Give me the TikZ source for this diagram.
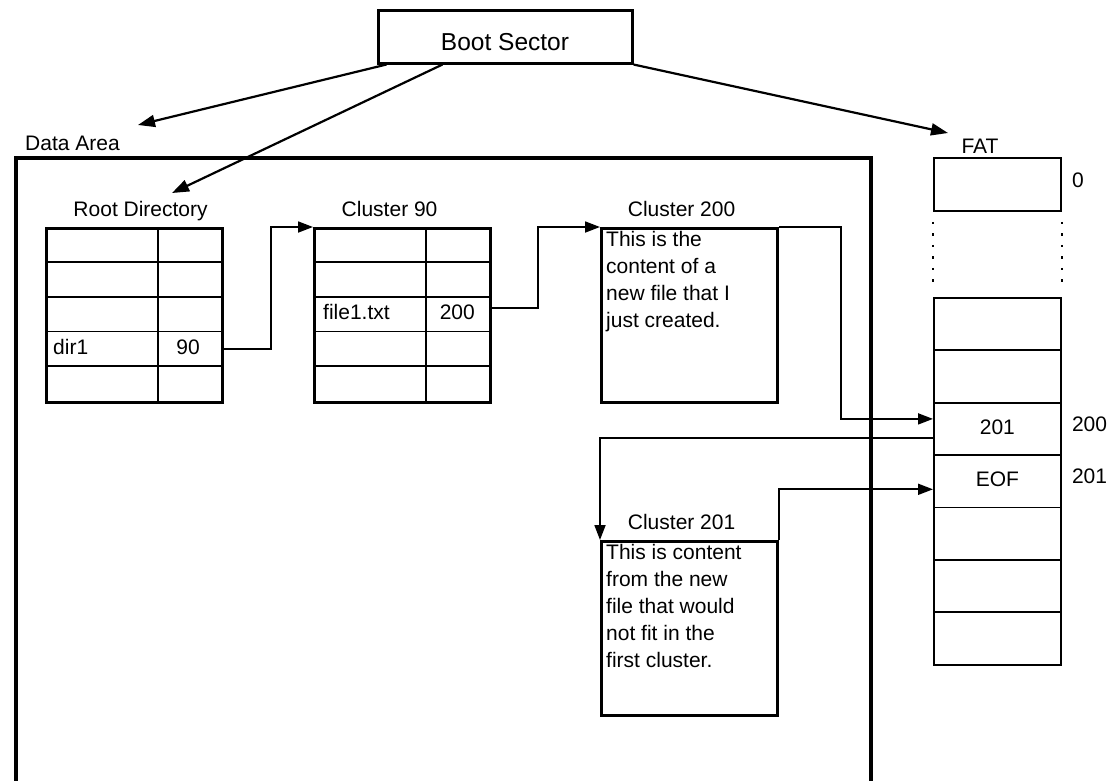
\documentclass[tikz,border=0pt]{standalone}
\usepackage{fontspec}
\setmainfont{Liberation Sans}
\usetikzlibrary{arrows.meta, positioning, calc}
\tikzstyle{bootbox} = [draw, line width=3pt, minimum width=254pt, minimum height=53pt, text height=27pt, text depth=0pt, font=\fontsize{24.5}{28}\selectfont]
\tikzstyle{dirtable} = [draw, line width=3.2pt, minimum width=176pt, minimum height=174pt, anchor=north west, inner sep=0pt]
\tikzstyle{fatcell} = [draw, line width=1.8pt, minimum width=127pt, minimum height=52.4pt, anchor=north west, inner sep=0pt]
\tikzstyle{lbl} = [inner sep=2pt, text height=15pt, text depth=4pt]
\tikzstyle{txt} = [inner sep=2pt, align=left, anchor=north west]
\tikzstyle{thinline} = [line width=1.8pt]
\tikzstyle{arrow} = [line width=1.8pt, -{Triangle[length=15pt,width=11pt]}]
\tikzstyle{bootarrow} = [line width=2.2pt, -{Triangle[length=17pt,width=12pt]}]

\begin{document}
\begin{tikzpicture}[x=1pt, y=-1pt, font=\fontsize{21}{27}\selectfont]
\useasboundingbox (0,0) rectangle (1111,780);
% boot sector and where it points
\node[bootbox] (boot) at (505,36.5) {Boot Sector};
\node[lbl, anchor=base west] (datalbl) at (23,150) {Data Area};
\node[draw, line width=3.5pt, minimum width=855pt, minimum height=625pt, anchor=north west, inner sep=0pt] (data) at (14,156) {};
\node[lbl, anchor=base] (fatlbl) at (980,153) {FAT};
\coordinate (datatip) at (138,125);
\coordinate (roottip) at (172,193);
\coordinate (fattip) at (948,133);
\draw[bootarrow] ([xshift=10pt]boot.south west) -- (datatip);
\draw[bootarrow] ([xshift=66pt]boot.south west) -- (roottip);
\draw[bootarrow] (boot.south east) -- (fattip);

% directory tables
\node[dirtable] (root) at (45,227) {};
\node[dirtable] (c90) at (313,227) {};
\foreach \t in {root, c90} {
  \foreach \k in {1,...,4}
    \draw[thinline] ([yshift={-\k*34.8pt}]\t.north west) -- ([yshift={-\k*34.8pt}]\t.north east);
  \draw[thinline] ([xshift=113pt]\t.north west) -- ([xshift=113pt]\t.south west);
}
\node[lbl, above=4pt of root, xshift=6pt] (rootlbl) {Root Directory};
\node[lbl, above=4pt of c90, xshift=-13pt] (c90lbl) {Cluster 90};
\node[lbl, anchor=west] (dir1) at (51,349) {dir1};
\node[lbl, anchor=east] (ptr90) at (202,349) {90};
\node[lbl, anchor=west] (file1) at (321,314) {file1.txt};
\node[lbl, anchor=east] (ptr200) at (477,314) {200};

% data clusters
\node[dirtable] (c200) at (600,227) {};
\node[dirtable] (c201) at (600,540) {};
\node[lbl, above=4pt of c200, xshift=-8pt] (c200lbl) {Cluster 200};
\node[lbl, above=4pt of c201, xshift=-8pt] (c201lbl) {Cluster 201};
\node[txt] (c200txt) at (604,229) {This is the\\content of a\\new file that I\\just created.};
\node[txt] (c201txt) at (604,542) {This is content\\from the new\\file that would\\not fit in the\\first cluster.};

% FAT
\node[fatcell, minimum height=53pt] (fat0) at (933,157) {};
\foreach \i in {1,...,7}
  \node[fatcell] (fat\i) at (933,{297+(\i-1)*52.4}) {};
\draw[line width=2.5pt, dash pattern=on 2.5pt off 9pt] ([yshift=-10pt]fat0.south west) -- ([yshift=10pt]fat1.north west);
\draw[line width=2.5pt, dash pattern=on 2.5pt off 9pt] ([yshift=-10pt]fat0.south east) -- ([yshift=10pt]fat1.north east);
\node[lbl] (fat3val) at (fat3) {201};
\node[lbl] (fat4val) at (fat4) {EOF};
\node[lbl, anchor=west] (idx0) at ([xshift=8pt,yshift=2pt]fat0.east) {0};
\node[lbl, anchor=west] (idx200) at ([xshift=8pt,yshift=3pt]fat3.east) {200};
\node[lbl, anchor=west] (idx201) at ([xshift=8pt,yshift=3pt]fat4.east) {201};

% chain of pointers
\draw[arrow] (root.east |- dir1) -- ++(47,0) |- (c90.north west);
\draw[arrow] ($(c90.east |- file1)+(0,-6)$) -- ++(46,0) |- (c200.north west);
\draw[arrow] (c200.north east) -- ++(62,0) |- ([yshift=10pt]fat3.west);
\draw[arrow] ([yshift=-9pt]fat3.west) -| (c201.north west);
\draw[arrow] (c201.north east) |- ([yshift=-8pt]fat4.west);
\end{tikzpicture}
\end{document}
